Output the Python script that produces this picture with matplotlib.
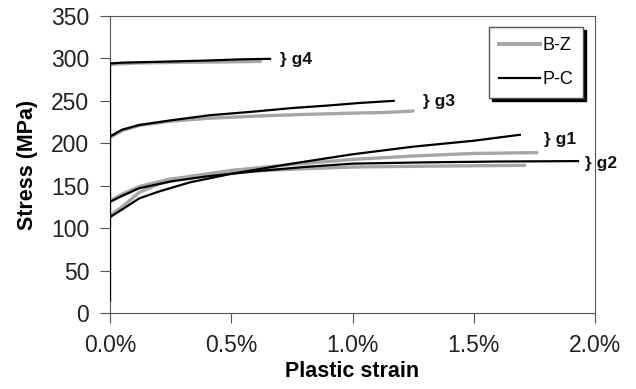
import matplotlib
matplotlib.use('Agg')
import matplotlib.pyplot as plt
from matplotlib.ticker import FuncFormatter

plt.rcParams['font.family'] = ['Liberation Sans', 'DejaVu Sans']

# Plastic strain (%) and stress (MPa), P-C = black, B-Z = gray
g4_pc_x = [0, 0, 0.05, 0.2, 0.4, 0.55, 0.66]
g4_pc_y = [15, 294, 295, 296, 297.5, 299, 299.5]
g4_bz_x = [0, 0.1, 0.3, 0.5, 0.62]
g4_bz_y = [293, 294.5, 295.5, 296, 296.5]

g3_pc_x = [0, 0.05, 0.12, 0.25, 0.41, 0.6, 0.75, 0.9, 1.03, 1.17]
g3_pc_y = [208, 216, 221.5, 227, 233, 237.5, 241.5, 244.5, 247.5, 250]
g3_bz_x = [0, 0.05, 0.12, 0.25, 0.41, 0.6, 0.8, 1.0, 1.15, 1.25]
g3_bz_y = [207, 215, 221, 226, 229.5, 232, 234, 235.5, 236.5, 238]

g1_pc_x = [0, 0.05, 0.12, 0.2, 0.33, 0.5, 0.75, 1.0, 1.25, 1.5, 1.69]
g1_pc_y = [113, 122, 135, 143, 154, 164, 176, 187, 196, 203, 210]
g1_bz_x = [0, 0.05, 0.12, 0.2, 0.33, 0.5, 0.75, 1.0, 1.25, 1.5, 1.76]
g1_bz_y = [115, 125, 142, 152, 161, 168, 175, 181, 185, 188, 189]

g2_pc_x = [0, 0.05, 0.12, 0.25, 0.4, 0.6, 0.8, 1.0, 1.3, 1.6, 1.93]
g2_pc_y = [131, 138, 147, 155, 161, 167, 172, 176, 177.5, 178.5, 179]
g2_bz_x = [0, 0.05, 0.12, 0.25, 0.4, 0.6, 0.8, 1.0, 1.3, 1.71]
g2_bz_y = [132, 140, 149, 158, 163, 167.5, 170, 172, 173, 174]

group_labels = ['} g4', '} g3', '} g1', '} g2']
label_x = [0.70, 1.29, 1.79, 1.96]
label_y = [299, 249, 205, 176]

gray = '#a6a6a6'

fig = plt.figure(figsize=(6.36, 3.89), dpi=100)
ax = fig.add_axes([0.173, 0.1954, 0.7625, 0.7635])

for x, y in [(g4_bz_x, g4_bz_y), (g3_bz_x, g3_bz_y), (g1_bz_x, g1_bz_y), (g2_bz_x, g2_bz_y)]:
    ax.plot(x, y, color=gray, lw=2.4, solid_capstyle='round', zorder=2)
for x, y in [(g4_pc_x, g4_pc_y), (g3_pc_x, g3_pc_y), (g1_pc_x, g1_pc_y), (g2_pc_x, g2_pc_y)]:
    ax.plot(x, y, color='black', lw=1.6, zorder=3)

for lab, x, y in zip(group_labels, label_x, label_y):
    ax.text(x, y, lab, fontsize=12.5, fontweight='bold', va='center', ha='left', color='#111111')

ax.plot([], [], color=gray, lw=2.8, label='B-Z')
ax.plot([], [], color='black', lw=1.6, label='P-C')
ax.legend(loc='upper right', bbox_to_anchor=(0.975, 0.963), fontsize=13,
          fancybox=False, framealpha=1, edgecolor='#555555', handlelength=2.3,
          handletextpad=0.1, borderpad=0.55, labelspacing=0.95, borderaxespad=0,
          shadow={'color': 'black', 'alpha': 1})

ax.set_xlim(0, 2.0)
ax.set_ylim(0, 350)
ax.set_xticks([0, 0.5, 1.0, 1.5, 2.0])
ax.set_yticks(range(0, 351, 50))
ax.xaxis.set_major_formatter(FuncFormatter(lambda v, p: '%.1f%%' % v))
ax.tick_params(direction='out', length=7, width=0.8, color='#555555',
               labelsize=16.5, labelcolor='#222222', pad=8)
for s in ax.spines.values():
    s.set_color('#555555')
    s.set_linewidth(0.8)

ax.set_xlabel('Plastic strain', fontsize=15.5, fontweight='bold', labelpad=3)
ax.set_ylabel('Stress (MPa)', fontsize=15.5, fontweight='bold', labelpad=9)

fig.savefig('out.png', dpi=100)
